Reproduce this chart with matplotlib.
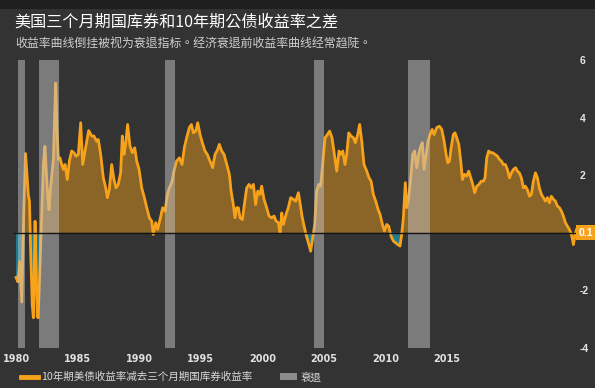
import numpy as np
import matplotlib
matplotlib.use("Agg")
import matplotlib.pyplot as plt
from matplotlib.lines import Line2D
from matplotlib.patches import Patch, Rectangle

CJK = ['Noto Sans CJK TC', 'DejaVu Sans']
plt.rcParams['font.family'] = CJK

# 10y minus 3m spread (year, percentage points)
years = [
    1979.84, 1979.97, 1980.10, 1980.25, 1980.38, 1980.52, 1980.62, 1980.72, 1980.80, 1980.88,
    1981.00, 1981.08, 1981.14, 1981.20, 1981.27, 1981.36, 1981.42, 1981.55, 1981.70, 1981.80,
    1981.91, 1982.02, 1982.12, 1982.20, 1982.30, 1982.40, 1982.52, 1982.60, 1982.68, 1982.78,
    1982.87, 1982.99, 1983.11, 1983.23, 1983.35, 1983.51, 1983.66, 1983.82, 1983.99, 1984.13,
    1984.30, 1984.47, 1984.61, 1984.78, 1984.90, 1985.04, 1985.26, 1985.42, 1985.61, 1985.73,
    1985.90, 1986.09, 1986.26, 1986.38, 1986.52, 1986.69, 1986.85, 1987.00, 1987.16, 1987.33,
    1987.45, 1987.57, 1987.69, 1987.83, 1988.00, 1988.17, 1988.34, 1988.48, 1988.65, 1988.84,
    1989.03, 1989.20, 1989.39, 1989.55, 1989.67, 1989.84, 1989.98, 1990.15, 1990.34, 1990.51,
    1990.68, 1990.82, 1990.99, 1991.15, 1991.34, 1991.54, 1991.73, 1991.89, 1992.06, 1992.25,
    1992.40, 1992.54, 1992.71, 1992.85, 1993.02, 1993.18, 1993.37, 1993.54, 1993.73, 1993.92,
    1994.09, 1994.28, 1994.40, 1994.57, 1994.74, 1994.93, 1995.12, 1995.24, 1995.40, 1995.52,
    1995.64, 1995.76, 1995.88, 1996.05, 1996.19, 1996.36, 1996.53, 1996.67, 1996.84, 1997.00,
    1997.15, 1997.31, 1997.43, 1997.60, 1997.79, 1997.96, 1998.15, 1998.32, 1998.46, 1998.63,
    1998.75, 1998.87, 1998.99, 1999.18, 1999.34, 1999.51, 1999.70, 1999.87, 2000.06, 2000.18,
    2000.32, 2000.47, 2000.61, 2000.78, 2000.94, 2001.09, 2001.23, 2001.37, 2001.52, 2001.66,
    2001.80, 2001.97, 2002.14, 2002.30, 2002.47, 2002.64, 2002.81, 2002.97, 2003.12, 2003.24,
    2003.40, 2003.52, 2003.67, 2003.83, 2004.00, 2004.14, 2004.31, 2004.45, 2004.60, 2004.76,
    2004.96, 2005.12, 2005.27, 2005.43, 2005.60, 2005.77, 2005.91, 2006.08, 2006.22, 2006.39,
    2006.53, 2006.70, 2006.87, 2007.03, 2007.18, 2007.34, 2007.46, 2007.58, 2007.72, 2007.82,
    2007.96, 2008.11, 2008.25, 2008.39, 2008.54, 2008.68, 2008.82, 2008.94, 2009.06, 2009.21,
    2009.35, 2009.49, 2009.64, 2009.78, 2009.97, 2010.16, 2010.33, 2010.50, 2010.64, 2010.76,
    2010.88, 2011.00, 2011.16, 2011.28, 2011.40, 2011.55, 2011.69, 2011.81, 2011.95, 2012.12,
    2012.26, 2012.41, 2012.55, 2012.69, 2012.84, 2013.00, 2013.15, 2013.31, 2013.43, 2013.55,
    2013.69, 2013.84, 2013.98, 2014.15, 2014.32, 2014.46, 2014.60, 2014.74, 2014.89, 2015.03,
    2015.18, 2015.32, 2015.46, 2015.62, 2015.75, 2015.89, 2016.03, 2016.18, 2016.32, 2016.46,
    2016.61, 2016.75, 2016.89, 2017.04, 2017.18, 2017.32, 2017.47, 2017.61, 2017.75, 2017.90,
    2018.04, 2018.18, 2018.33, 2018.47, 2018.61, 2018.76, 2018.90, 2019.04, 2019.19, 2019.33,
    2019.47, 2019.62, 2019.76, 2019.88, 2019.99,
]
spread = [
    -1.55, -1.70, -1.00, -2.40, 0.50, 2.75, 2.00, 1.30, 1.10, -0.50,
    -2.50, -2.95, -1.50, 0.40, -1.00, -2.90, -2.95, -1.20, 1.00, 2.40,
    3.00, 2.00, 1.20, 0.80, 1.50, 2.00, 2.60, 4.00, 5.20, 3.50,
    2.55, 2.60, 2.37, 2.20, 2.37, 1.85, 2.49, 2.84, 2.78, 2.66,
    2.72, 3.82, 2.37, 2.84, 3.18, 3.55, 3.36, 3.36, 3.18, 3.24,
    2.72, 1.91, 1.56, 1.22, 1.50, 2.37, 1.85, 1.56, 1.68, 2.08,
    3.36, 2.72, 3.07, 3.76, 3.01, 2.78, 2.95, 2.49, 2.20, 1.56,
    1.22, 0.87, 0.52, 0.41, -0.06, 0.35, 0.12, 0.46, 0.87, 0.75,
    1.33, 1.56, 1.74, 2.14, 2.49, 2.60, 2.37, 2.95, 3.30, 3.65,
    3.76, 3.47, 3.53, 3.82, 3.41, 3.13, 2.84, 2.72, 2.49, 2.26,
    2.72, 2.89, 3.07, 2.84, 2.72, 2.37, 2.03, 1.45, 0.98, 0.52,
    0.87, 0.87, 0.52, 0.46, 0.98, 1.56, 1.68, 1.56, 1.68, 0.98,
    1.45, 1.33, 1.62, 1.16, 0.87, 0.58, 0.52, 0.58, 0.41, 0.35,
    0.00, 0.69, 0.29, 0.64, 0.87, 1.22, 1.16, 1.10, 1.39, 1.04,
    0.58, 0.23, -0.06, -0.35, -0.64, -0.17, 0.29, 1.45, 1.68, 1.62,
    2.37, 3.30, 3.41, 3.53, 3.30, 2.72, 2.14, 2.84, 2.72, 2.84,
    2.37, 2.72, 3.47, 3.36, 3.30, 3.13, 3.41, 3.76, 3.18, 2.37,
    2.14, 1.91, 1.79, 1.33, 1.10, 0.81, 0.64, 0.29, 0.06, 0.29,
    0.23, -0.12, -0.29, -0.35, -0.41, -0.46, -0.06, 0.52, 1.74, 0.87,
    1.22, 1.91, 2.72, 2.84, 2.26, 2.72, 3.01, 3.13, 2.20, 2.72,
    3.18, 3.41, 3.59, 3.41, 3.65, 3.70, 3.59, 3.18, 2.72, 2.43,
    2.49, 2.95, 3.41, 3.47, 3.30, 3.07, 2.49, 1.85, 2.03, 1.97,
    2.14, 1.91, 1.68, 1.39, 1.62, 1.68, 1.79, 1.79, 1.91, 2.60,
    2.84, 2.78, 2.78, 2.72, 2.66, 2.55, 2.49, 2.37, 2.37, 2.20,
    1.91, 2.08, 2.20, 2.26, 2.14, 2.08, 1.91, 1.56, 1.62, 1.50,
    1.27, 1.33, 1.79, 2.08, 1.91, 1.56, 1.33, 1.22, 1.10, 1.22,
    1.04, 1.27, 1.16, 1.10, 0.93, 0.87, 0.75, 0.58, 0.35, 0.23,
    0.12, -0.06, -0.41, -0.06, 0.12,
]

# recessions (start, end)
rec_start = [1980.0, 1981.5, 1990.5, 2001.2, 2007.9]
rec_end = [1980.5, 1982.9, 1991.2, 2001.9, 2009.5]

tick_labels = ['1980', '1985', '1990', '1995', '2000', '2005', '2010', '2015']
last_value = '0.1'

title = '美国三个月期国库券和10年期公债收益率之差'
subtitle = '收益率曲线倒挂被视为衰退指标。经济衰退前收益率曲线经常趋陡。'
legend_line = '10年期美债收益率减去三个月期国库券收益率'
legend_rec = '衰退'

bg = '#333333'
orange = '#f7a21b'
teal = '#1d8fa8'

t = np.array(years)
v = np.array(spread)

fig = plt.figure(figsize=(5.95, 3.88), dpi=100, facecolor=bg)
fig.patches.append(Rectangle((0, 0.978), 1, 0.022, transform=fig.transFigure,
                             facecolor='#1f1f1f', edgecolor='none', zorder=0))
ax = fig.add_axes([0.0237, 0.1031, 0.948, 0.7423])
ax.set_facecolor(bg)

ax.fill_between(t, v, 0, where=v >= 0, interpolate=True, color=orange, alpha=0.45, lw=0)
ax.fill_between(t, v, 0, where=v <= 0, interpolate=True, color=teal, alpha=0.8, lw=0)
ax.plot(t, v, color=orange, lw=2.0, solid_joinstyle='round', zorder=3)
for s, e in zip(rec_start, rec_end):
    ax.axvspan(s, e, color='#c4c4c4', alpha=0.5, lw=0, zorder=4)
ax.axhline(0, color='#151515', lw=1, zorder=5)

ax.set_xlim(1979.7, 2020.1)
ax.set_ylim(-4, 6)
for sp in ax.spines.values():
    sp.set_visible(False)

# label positions as they sit in the picture
tick_pos = np.linspace(1979.84, 2010.7, len(tick_labels))
ax.set_xticks(tick_pos)
ax.set_xticklabels(tick_labels, family=['Liberation Sans Narrow', 'DejaVu Sans'],
                   fontweight='bold')
ax.tick_params(axis='x', length=0, pad=4, labelsize=7, colors='#e0e0e0')
ax.yaxis.tick_right()
ax.set_yticks([-4, -2, 2, 4, 6])
ax.set_yticklabels(['-4', '-2', '2', '4', '6'], family=['Liberation Sans', 'DejaVu Sans'],
                   fontweight='bold')
ax.tick_params(axis='y', length=0, pad=1, labelsize=7.5, colors='#e6e6e6')

ax.text(1.0, 0, last_value, transform=ax.get_yaxis_transform(), ha='left', va='center',
        fontsize=7.5, color='white', fontweight='bold', family=['Liberation Sans', 'DejaVu Sans'],
        bbox=dict(boxstyle='square,pad=0.25', facecolor=orange, edgecolor='none'),
        clip_on=False, zorder=6)

fig.text(0.024, 0.944, title, fontsize=11.6, color='white', ha='left', va='center')
fig.text(0.026, 0.888, subtitle, fontsize=8.6, color='#cfcfcf', ha='left', va='center')

handles = [Line2D([0], [0], color=orange, lw=3.5), Patch(facecolor='#8c8c8c', edgecolor='none')]
fig.legend(handles, [legend_line, legend_rec], loc='lower left', bbox_to_anchor=(0.02, -0.01),
           ncol=2, frameon=False, fontsize=7.6, labelcolor='#d8d8d8', handlelength=1.6,
           handleheight=0.6, handletextpad=0.3, columnspacing=2.6)

fig.savefig('out.png', dpi=100, facecolor=bg)
